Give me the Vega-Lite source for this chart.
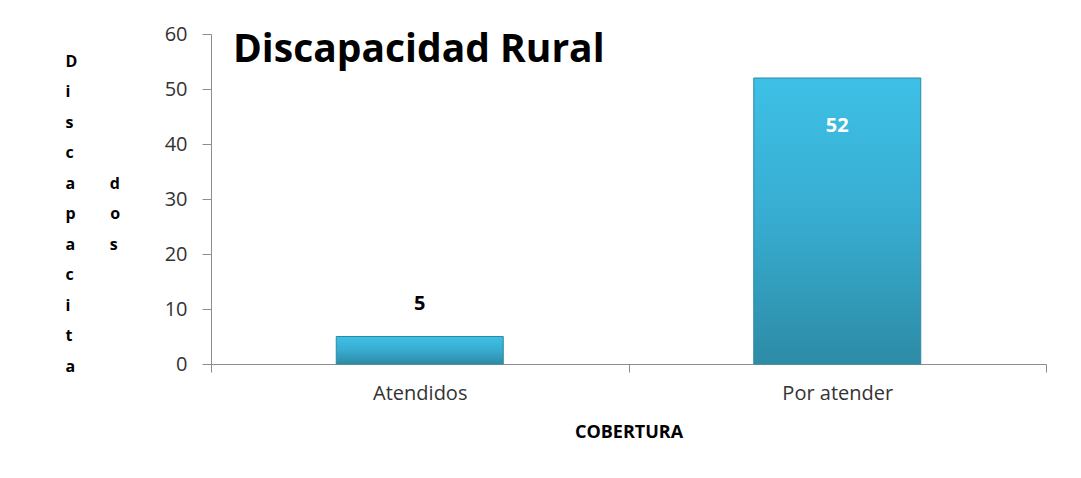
{
  "$schema": "https://vega.github.io/schema/vega-lite/v6.json",
  "autosize": {"type": "none"},
  "width": 835,
  "height": 330,
  "padding": {"left": 211, "top": 34, "right": 35, "bottom": 114},
  "background": "white",
  "config": {
    "view": {"stroke": null},
    "font": "Open Sans"
  },
  "title": {
    "text": "Discapacidad Rural",
    "anchor": "start",
    "frame": "group",
    "font": "Open Sans",
    "fontSize": 39,
    "fontWeight": "bold",
    "color": "#000000",
    "baseline": "alphabetic",
    "offset": 0,
    "dx": 22,
    "dy": 77
  },
  "data": {
    "values": [
      {"cobertura": "Atendidos", "discapacitados": 5},
      {"cobertura": "Por atender", "discapacitados": 52}
    ]
  },
  "encoding": {
    "x": {
      "field": "cobertura",
      "type": "nominal",
      "sort": null,
      "scale": {"paddingInner": 0, "paddingOuter": 0},
      "axis": {
        "title": "COBERTURA",
        "titleFont": "Open Sans",
        "titleFontSize": 18,
        "titleFontWeight": "bold",
        "titleColor": "#000000",
        "titlePadding": 20,
        "labelAngle": 0,
        "labelFont": "Open Sans",
        "labelFontSize": 20,
        "labelColor": "#333333",
        "labelPadding": 11,
        "tickBand": "extent",
        "tickSize": 8,
        "tickColor": "#8c8c8c",
        "domainColor": "#8c8c8c",
        "grid": false
      }
    },
    "y": {
      "field": "discapacitados",
      "type": "quantitative",
      "scale": {"domain": [0, 60], "nice": false},
      "axis": {
        "values": [0, 10, 20, 30, 40, 50, 60],
        "grid": false,
        "tickSize": 9,
        "tickColor": "#8c8c8c",
        "domainColor": "#8c8c8c",
        "labelFont": "Open Sans",
        "labelFontSize": 20,
        "labelColor": "#333333",
        "labelPadding": 15,
        "title": ["D", "i", "s", "c", "a\u2003\u2003\u2009d", "p\u2003\u2003\u2009o", "a\u2003\u2003\u2009s", "c", "i", "t", "a"],
        "titleFont": "Open Sans",
        "titleFontSize": 16,
        "titleFontWeight": "bold",
        "titleColor": "#000000",
        "titleAngle": 0,
        "titleAlign": "left",
        "titleBaseline": "top",
        "titleLineHeight": 30.5,
        "titleX": -146,
        "titleY": 19
      }
    }
  },
  "layer": [
    {
      "mark": {
        "type": "bar",
        "width": {"band": 0.4},
        "stroke": "#2f89a3",
        "strokeWidth": 1,
        "color": {
          "gradient": "linear",
          "x1": 0, "y1": 0, "x2": 0, "y2": 1,
          "stops": [
            {"offset": 0, "color": "#3ec0e6"},
            {"offset": 0.5, "color": "#37acd0"},
            {"offset": 1, "color": "#2d8ba6"}
          ]
        }
      }
    },
    {
      "transform": [{"filter": "datum.cobertura == 'Atendidos'"}],
      "mark": {
        "type": "text",
        "font": "Open Sans",
        "fontSize": 20,
        "fontWeight": "bold",
        "color": "#000000",
        "baseline": "middle",
        "dy": -33
      },
      "encoding": {"text": {"field": "discapacitados"}}
    },
    {
      "transform": [{"filter": "datum.cobertura == 'Por atender'"}],
      "mark": {
        "type": "text",
        "font": "Open Sans",
        "fontSize": 20,
        "fontWeight": "bold",
        "color": "#ffffff",
        "baseline": "middle",
        "dy": 48
      },
      "encoding": {"text": {"field": "discapacitados"}}
    }
  ]
}
